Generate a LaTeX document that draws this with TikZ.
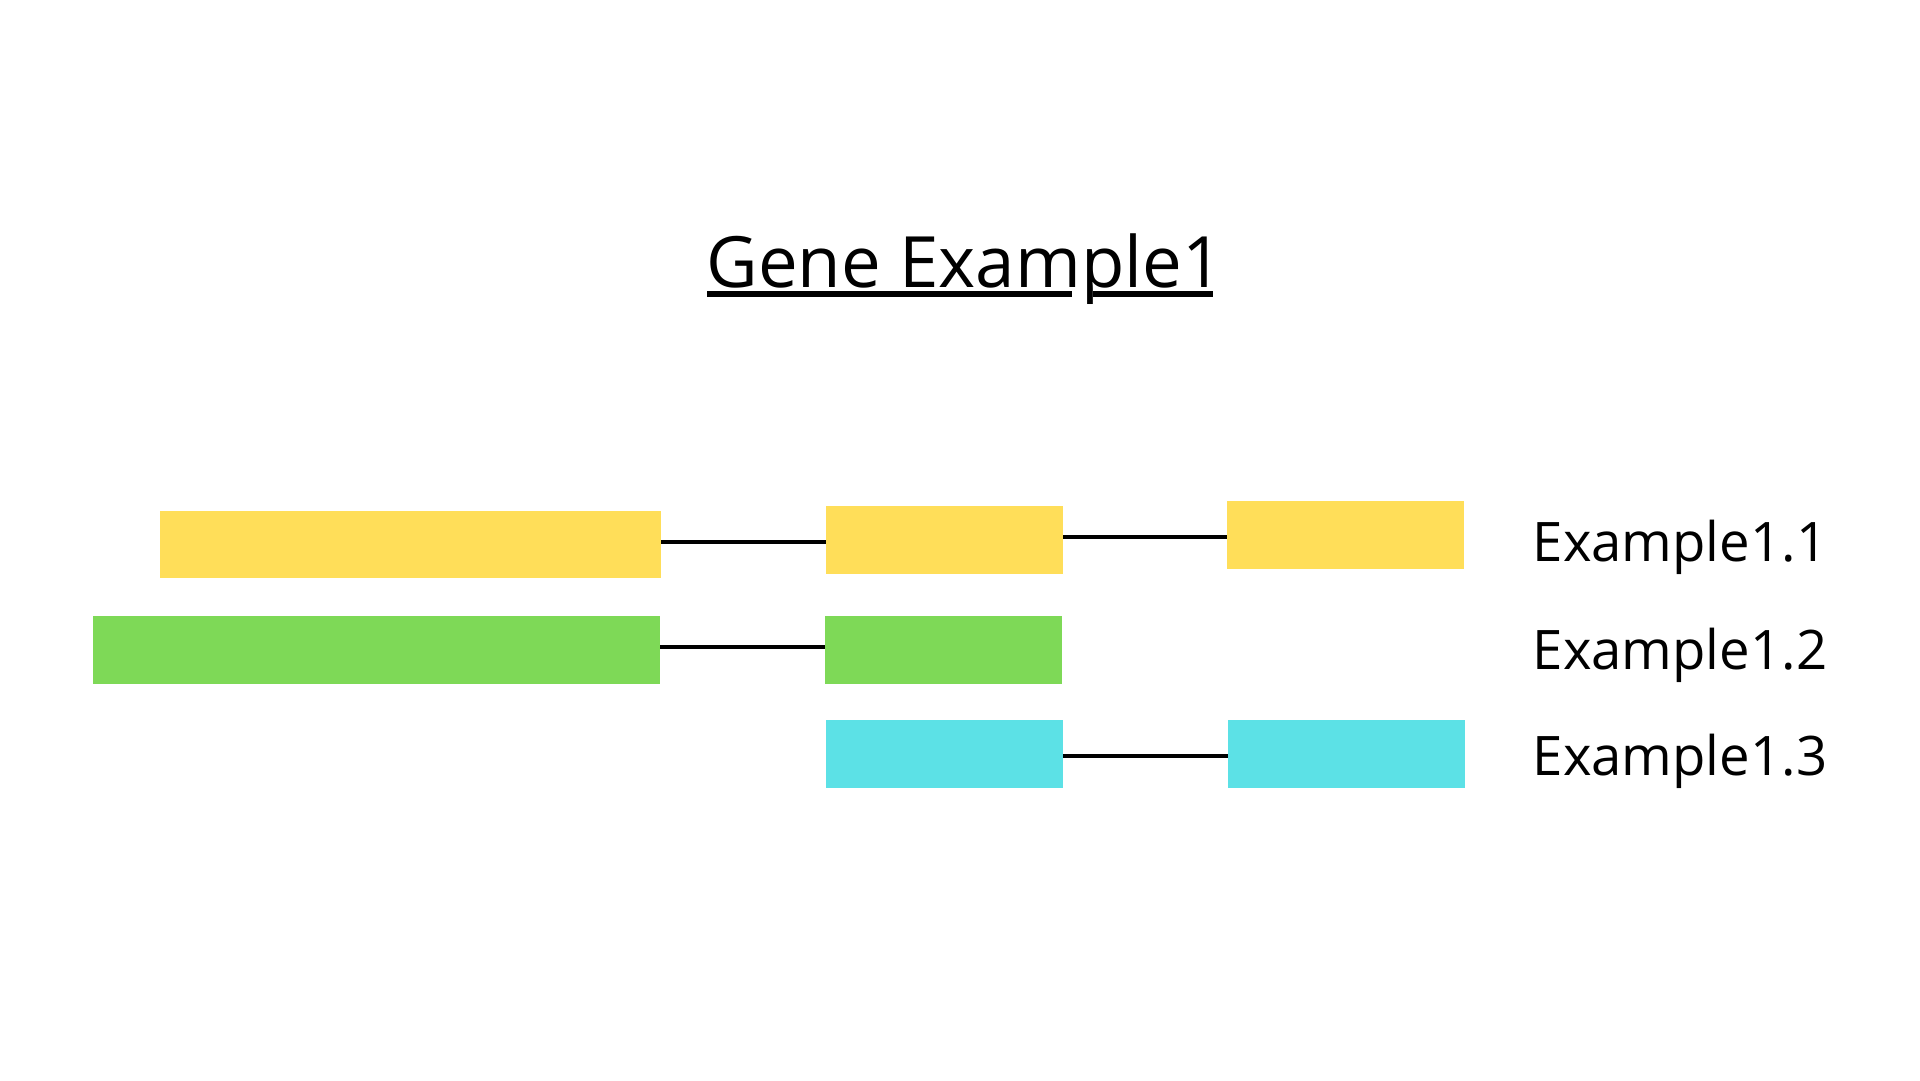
\documentclass[tikz,border=0pt]{standalone}
\usepackage{fontspec}
\newfontfamily\osans{Open Sans}
\definecolor{exyellow}{HTML}{FFDE59}
\definecolor{exgreen}{HTML}{7ED957}
\definecolor{excyan}{HTML}{5CE1E6}
\tikzset{
  exon/.style={rectangle, inner sep=0pt, outer sep=0pt, draw=none, anchor=north west},
  intron/.style={draw=black, line width=4pt},
  lbl/.style={inner sep=0pt, outer sep=0pt, anchor=base west, font=\osans\fontsize{54.5}{60}\selectfont},
  ttl/.style={inner sep=0pt, outer sep=0pt, anchor=base west, font=\osans\fontsize{70.8}{80}\selectfont},
  uline/.style={draw=black, line width=6pt}
}
\begin{document}
\begin{tikzpicture}[x=1pt,y=-1pt]
\useasboundingbox (0,0) rectangle (1920,1080);
\fill[white] (0,0) rectangle (1920,1080);
% title
\node[ttl] (title) at (706.6,287) {Gene Example1};
\coordinate (u1) at (707,293.7);
\coordinate (u2) at (1072,293.7);
\coordinate (u3) at (1093,293.7);
\coordinate (u4) at (1213,293.7);
\draw[uline] (u1) -- (u2);
\draw[uline] (u3) -- (u4);
% row 1
\node[exon, fill=exyellow, minimum width=501pt, minimum height=67pt] (Y1a) at (160,511) {};
\node[exon, fill=exyellow, minimum width=237pt, minimum height=68pt] (Y1b) at (826,506) {};
\node[exon, fill=exyellow, minimum width=237pt, minimum height=68pt] (Y1c) at (1227,501) {};
\draw[intron] (Y1a.east |- 0,542) -- (Y1b.west |- 0,542);
\draw[intron] (Y1b.east |- 0,537) -- (Y1c.west |- 0,537);
% row 2
\node[exon, fill=exgreen, minimum width=567pt, minimum height=68pt] (G2a) at (93,616) {};
\node[exon, fill=exgreen, minimum width=237pt, minimum height=68pt] (G2b) at (825,616) {};
\draw[intron] (G2a.east |- 0,647) -- (G2b.west |- 0,647);
% row 3
\node[exon, fill=excyan, minimum width=237pt, minimum height=68pt] (C3a) at (826,720) {};
\node[exon, fill=excyan, minimum width=237pt, minimum height=68pt] (C3b) at (1228,720) {};
\draw[intron] (C3a.east |- 0,756) -- (C3b.west |- 0,756);
% labels
\node[lbl] (L1) at (1532.7,561) {Example1.1};
\node[lbl] (L2) at (1532.7,669) {Example1.2};
\node[lbl] (L3) at (1532.7,775) {Example1.3};
\end{tikzpicture}
\end{document}
